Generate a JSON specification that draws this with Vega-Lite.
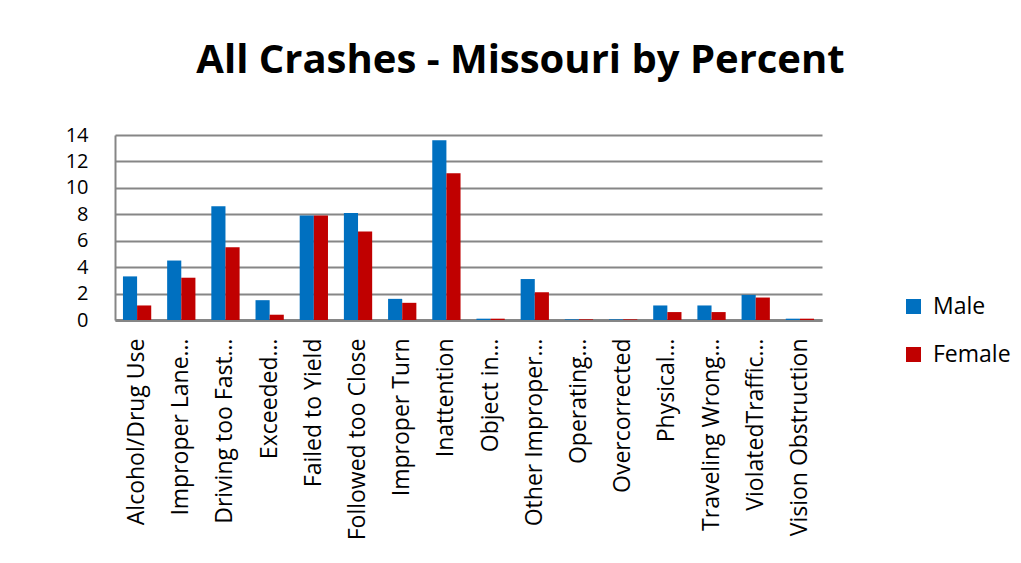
{
  "$schema": "https://vega.github.io/schema/vega-lite/v6.json",
  "autosize": {"type": "none"},
  "width": 707,
  "height": 185,
  "padding": {"left": 115, "top": 135, "right": 199, "bottom": 243},
  "background": "white",
  "title": {
    "text": "All Crashes - Missouri by Percent",
    "font": "Open Sans",
    "fontSize": 40,
    "fontWeight": "bold",
    "color": "#000000",
    "anchor": "middle",
    "dx": 52,
    "offset": 44
  },
  "config": {
    "view": {"stroke": null},
    "font": "Open Sans"
  },
  "data": {
    "values": [
      {"cause": "Alcohol/Drug Use", "gender": "Male", "pct": 3.3},
      {"cause": "Alcohol/Drug Use", "gender": "Female", "pct": 1.1},
      {"cause": "Improper Lane…", "gender": "Male", "pct": 4.5},
      {"cause": "Improper Lane…", "gender": "Female", "pct": 3.2},
      {"cause": "Driving too Fast…", "gender": "Male", "pct": 8.6},
      {"cause": "Driving too Fast…", "gender": "Female", "pct": 5.5},
      {"cause": "Exceeded…", "gender": "Male", "pct": 1.5},
      {"cause": "Exceeded…", "gender": "Female", "pct": 0.4},
      {"cause": "Failed to Yield", "gender": "Male", "pct": 7.9},
      {"cause": "Failed to Yield", "gender": "Female", "pct": 7.9},
      {"cause": "Followed too Close", "gender": "Male", "pct": 8.1},
      {"cause": "Followed too Close", "gender": "Female", "pct": 6.7},
      {"cause": "Improper Turn", "gender": "Male", "pct": 1.6},
      {"cause": "Improper Turn", "gender": "Female", "pct": 1.3},
      {"cause": "Inattention", "gender": "Male", "pct": 13.6},
      {"cause": "Inattention", "gender": "Female", "pct": 11.1},
      {"cause": "Object in…", "gender": "Male", "pct": 0.1},
      {"cause": "Object in…", "gender": "Female", "pct": 0.1},
      {"cause": "Other Improper…", "gender": "Male", "pct": 3.1},
      {"cause": "Other Improper…", "gender": "Female", "pct": 2.1},
      {"cause": "Operating…", "gender": "Male", "pct": 0.05},
      {"cause": "Operating…", "gender": "Female", "pct": 0.05},
      {"cause": "Overcorrected", "gender": "Male", "pct": 0.05},
      {"cause": "Overcorrected", "gender": "Female", "pct": 0.05},
      {"cause": "Physical…", "gender": "Male", "pct": 1.1},
      {"cause": "Physical…", "gender": "Female", "pct": 0.6},
      {"cause": "Traveling Wrong…", "gender": "Male", "pct": 1.1},
      {"cause": "Traveling Wrong…", "gender": "Female", "pct": 0.6},
      {"cause": "ViolatedTraffic…", "gender": "Male", "pct": 1.9},
      {"cause": "ViolatedTraffic…", "gender": "Female", "pct": 1.7},
      {"cause": "Vision Obstruction", "gender": "Male", "pct": 0.1},
      {"cause": "Vision Obstruction", "gender": "Female", "pct": 0.1}
    ]
  },
  "mark": {"type": "bar", "stroke": null},
  "encoding": {
    "x": {
      "field": "cause",
      "type": "nominal",
      "sort": null,
      "scale": {"paddingInner": 0.36, "paddingOuter": 0.18},
      "axis": {
        "title": null,
        "labelAngle": -90,
        "labelFontSize": 23,
        "labelColor": "#000000",
        "labelPadding": 18,
        "labelLimit": 300,
        "ticks": false,
        "domain": true,
        "domainColor": "#868686",
        "domainWidth": 3
      }
    },
    "xOffset": {"field": "gender", "type": "nominal", "sort": ["Male", "Female"], "scale": {"paddingInner": 0}},
    "y": {
      "field": "pct",
      "type": "quantitative",
      "scale": {"domain": [0, 14], "nice": false},
      "axis": {
        "title": null,
        "values": [0, 2, 4, 6, 8, 10, 12, 14],
        "labelFontSize": 20,
        "labelColor": "#000000",
        "labelPadding": 27,
        "ticks": false,
        "domain": true,
        "domainColor": "#868686",
        "domainWidth": 2,
        "grid": true,
        "gridColor": "#868686",
        "gridWidth": 2
      }
    },
    "color": {
      "field": "gender",
      "type": "nominal",
      "sort": ["Male", "Female"],
      "scale": {"domain": ["Male", "Female"], "range": ["#0070C0", "#C00000"]},
      "legend": {
        "title": null,
        "orient": "none",
        "legendX": 787,
        "legendY": 160,
        "symbolType": "square",
        "symbolSize": 225,
        "symbolStrokeWidth": 0,
        "labelFontSize": 23,
        "labelColor": "#000000",
        "rowPadding": 24,
        "labelOffset": 8
      }
    }
  }
}
